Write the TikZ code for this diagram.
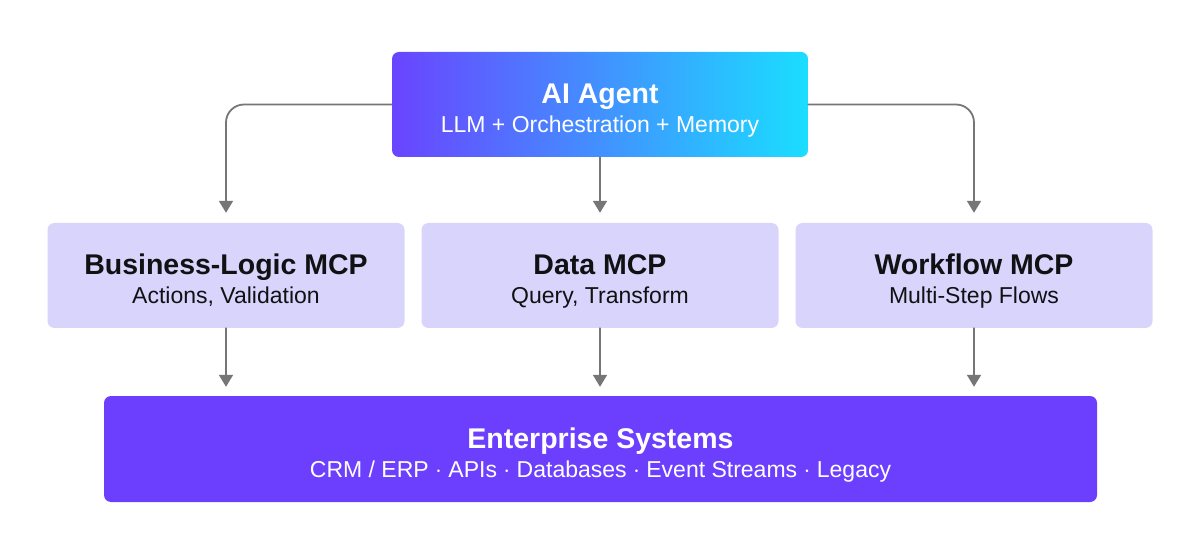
\documentclass[tikz,border=0pt]{standalone}
\usepackage{fontspec}
\setmainfont{Liberation Sans}
\usetikzlibrary{arrows.meta,positioning}
\definecolor{agentLeft}{HTML}{6A44FF}
\definecolor{agentRight}{HTML}{1ADEFF}
\definecolor{mcpFill}{HTML}{D9D4FC}
\definecolor{entFill}{HTML}{6C3FFF}
\definecolor{linkGray}{HTML}{767676}
\definecolor{inkDark}{HTML}{111114}
\newcommand{\twoline}[2]{{\fontsize{28.5}{29}\selectfont\bfseries\rule{0pt}{27pt}#1}\\\smash{#2}}

\begin{document}
\begin{tikzpicture}[x=1pt,y=-1pt,>=Latex,line cap=round,line join=round]
\path[fill=white] (0,0) rectangle (1200,553);
\tikzset{panel/.style={rounded corners=7pt,align=center,inner sep=0pt,font={\fontsize{23}{29}\selectfont}},
  mcpbox/.style={panel,fill=mcpFill,text=inkDark,minimum width=357pt,minimum height=105pt},
  link/.style={draw=linkGray,line width=1.8pt,-{Triangle[width=14pt,length=12pt]},shorten >=10pt}}
% agent on top
\node[panel,left color=agentLeft,right color=agentRight,text=white,minimum width=416pt,minimum height=105pt] (agent) at (600,104.5) {\twoline{AI Agent}{LLM + Orchestration + Memory}};
% three mcp servers
\node[mcpbox] (bizlogic) at (226,275.5) {\twoline{Business-Logic MCP}{Actions, Validation}};
\node[mcpbox] (datamcp) at (600,275.5) {\twoline{Data MCP}{Query, Transform}};
\node[mcpbox] (flowmcp) at (974,275.5) {\twoline{Workflow MCP}{Multi-Step Flows}};
% backend
\node[panel,fill=entFill,text=white,minimum width=993pt,minimum height=106pt] (enterprise) at (600.5,449) {\twoline{Enterprise Systems}{CRM / ERP $\cdot$ APIs $\cdot$ Databases $\cdot$ Event Streams $\cdot$ Legacy}};
\draw[link,rounded corners=18pt] (agent.west) -| (bizlogic.north);
\draw[link] (agent.south) -- (datamcp.north);
\draw[link,rounded corners=18pt] (agent.east) -| (flowmcp.north);
\draw[link,shorten >=9pt] (bizlogic.south) -- (bizlogic.south |- enterprise.north);
\draw[link,shorten >=9pt] (datamcp.south) -- (datamcp.south |- enterprise.north);
\draw[link,shorten >=9pt] (flowmcp.south) -- (flowmcp.south |- enterprise.north);
\end{tikzpicture}
\end{document}
